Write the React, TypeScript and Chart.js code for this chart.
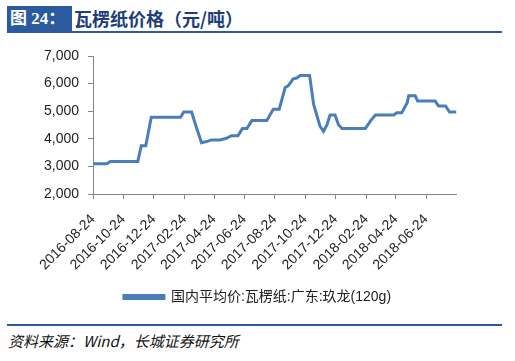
import React, { useEffect, useRef } from "react";
import { Chart, registerables } from "chart.js";

Chart.register(...registerables);

const dates = [
  "2016-08-24", "2016-09-21", "2016-09-28", "2016-11-22", "2016-11-29", "2016-12-08",
  "2016-12-19", "2017-02-16", "2017-02-22", "2017-03-10", "2017-03-20", "2017-03-30",
  "2017-04-09", "2017-04-19", "2017-05-06", "2017-05-19", "2017-05-29", "2017-06-11",
  "2017-06-20", "2017-06-29", "2017-07-09", "2017-08-08", "2017-08-21", "2017-09-02",
  "2017-09-14", "2017-09-20", "2017-09-30", "2017-10-07", "2017-10-14", "2017-11-02",
  "2017-11-10", "2017-11-16", "2017-11-23", "2017-11-30", "2017-12-07", "2017-12-13",
  "2017-12-23", "2017-12-30", "2018-01-06", "2018-02-22", "2018-03-04", "2018-03-14",
  "2018-04-20", "2018-04-26", "2018-05-06", "2018-05-17", "2018-05-20", "2018-06-02",
  "2018-06-07", "2018-07-12", "2018-07-19", "2018-08-02", "2018-08-10", "2018-08-24",
];

const values = [
  3100, 3100, 3180, 3180, 3750, 3750,
  4780, 4780, 4970, 4970, 4390, 3860,
  3900, 3960, 3960, 4020, 4110, 4110,
  4370, 4370, 4660, 4660, 5070, 5070,
  5860, 5920, 6170, 6200, 6290, 6290,
  5250, 4880, 4450, 4270, 4510, 4860,
  4860, 4510, 4370, 4370, 4640, 4860,
  4860, 4940, 4940, 5310, 5560, 5560,
  5370, 5370, 5190, 5190, 4970, 4970,
];

const tickDates = [
  "2016-08-24", "2016-10-24", "2016-12-24", "2017-02-24", "2017-04-24", "2017-06-24",
  "2017-08-24", "2017-10-24", "2017-12-24", "2018-02-24", "2018-04-24", "2018-06-24",
];

const yMin = 2000;
const yMax = 7000;
const yStep = 1000;

const seriesName = "国内平均价:瓦楞纸:广东:玖龙(120g)";
const titleTag = "图 24：";
const titleText = "瓦楞纸价格（元/吨）";
const sourceText = "资料来源：Wind，长城证券研究所";

const DAY = 86400000;
const base = Date.UTC(2016, 7, 24);
const toDay = (s: string) => {
  const [y, m, d] = s.split("-").map(Number);
  return (Date.UTC(y, m - 1, d) - base) / DAY;
};

const FONT = "'Liberation Sans', Arial, 'Noto Sans CJK SC', sans-serif";
const AXIS = "#868686";
const LINE = "#4A7EBB";

export default function App() {
  const ref = useRef<HTMLCanvasElement>(null);

  useEffect(() => {
    const tickVals = tickDates.map(toDay);
    const chart = new Chart(ref.current!, {
      type: "line",
      data: {
        datasets: [
          {
            label: seriesName,
            data: dates.map((d, i) => ({ x: toDay(d), y: values[i] })),
            borderColor: LINE,
            backgroundColor: LINE,
            borderWidth: 3,
            pointRadius: 0,
            tension: 0,
          },
        ],
      },
      options: {
        animation: false,
        responsive: false,
        maintainAspectRatio: false,
        layout: { padding: { top: 20, bottom: 4, left: 0, right: 0 } },
        plugins: {
          legend: {
            position: "bottom",
            labels: {
              boxWidth: 40,
              boxHeight: 3,
              padding: 10,
              color: "#222",
              font: { size: 14, family: FONT },
            },
          },
          tooltip: { enabled: false },
        },
        scales: {
          x: {
            type: "linear",
            min: 0,
            max: toDay(dates[dates.length - 1]),
            afterBuildTicks: (s: any) => {
              s.ticks = tickVals.map((v) => ({ value: v }));
            },
            afterFit: (s: any) => {
              s.height = 86;
            },
            ticks: {
              autoSkip: false,
              maxRotation: 45,
              minRotation: 45,
              padding: 12,
              color: "#222",
              font: { size: 14, family: FONT },
              callback: (_v: any, i: number) => tickDates[i],
            },
            grid: { display: true, drawOnChartArea: false, drawTicks: true, tickLength: 5, color: AXIS },
            border: { display: true, color: AXIS },
          },
          y: {
            min: yMin,
            max: yMax,
            afterFit: (s: any) => {
              s.width = 93;
            },
            ticks: {
              stepSize: yStep,
              padding: 9,
              color: "#222",
              font: { size: 14, family: FONT },
              callback: (v: any) => Number(v).toLocaleString("en-US"),
            },
            grid: { display: true, drawOnChartArea: false, drawTicks: true, tickLength: 5, color: AXIS },
            border: { display: true, color: AXIS },
          },
          y2: {
            position: "right",
            display: true,
            afterFit: (s: any) => {
              s.width = 58.5;
            },
            ticks: { display: false },
            grid: { display: false, drawTicks: false },
            border: { display: false },
          },
        },
      } as any,
    });
    return () => chart.destroy();
  }, []);

  return (
    <div
      style={{
        position: "fixed",
        left: 0,
        top: 0,
        width: 515,
        height: 361,
        background: "#fff",
        overflow: "hidden",
      }}
    >
      <div
        style={{
          position: "absolute",
          left: 7,
          top: 6,
          width: 65,
          height: 25,
          background: "#2B5B9E",
          color: "#fff",
          fontFamily: "'Liberation Serif', 'Noto Sans CJK SC', serif",
          fontWeight: "bold",
          fontSize: 17,
          lineHeight: "25px",
          paddingLeft: 3,
          boxSizing: "border-box",
          whiteSpace: "nowrap",
        }}
      >
        {titleTag}
      </div>
      <div
        style={{
          position: "absolute",
          left: 74,
          top: 6,
          height: 25,
          color: "#1F3D7A",
          fontFamily: "'Noto Sans CJK SC', sans-serif",
          fontWeight: "bold",
          fontSize: 18,
          lineHeight: "25px",
          whiteSpace: "nowrap",
        }}
      >
        {titleText}
      </div>
      <div
        style={{ position: "absolute", left: 7, top: 31, width: 495, height: 2, background: "#2B5B9E" }}
      />
      <canvas
        ref={ref}
        width={515}
        height={282}
        style={{ position: "absolute", left: 0, top: 36, width: 515, height: 282, display: "block" }}
      />
      <div
        style={{ position: "absolute", left: 7, top: 324, width: 495, height: 2, background: "#2B5B9E" }}
      />
      <div
        style={{
          position: "absolute",
          left: 8,
          top: 331,
          color: "#111",
          fontFamily: "'Noto Sans CJK SC', sans-serif",
          fontStyle: "italic",
          fontSize: 15,
          lineHeight: "20px",
          whiteSpace: "nowrap",
        }}
      >
        {sourceText}
      </div>
    </div>
  );
}
